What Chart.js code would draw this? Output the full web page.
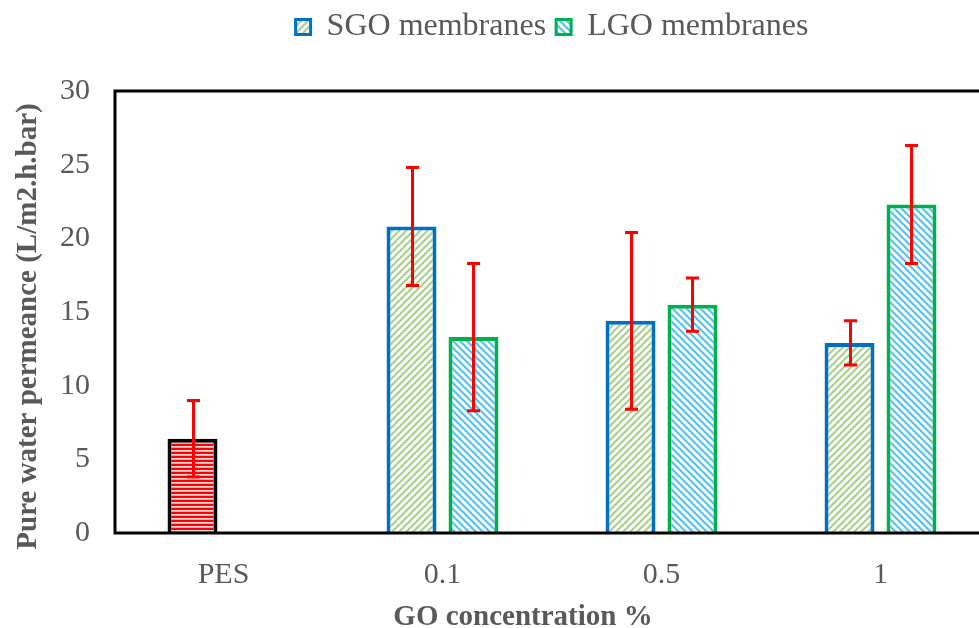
<!DOCTYPE html>
<html>
<head>
<meta charset="utf-8">
<script src="https://cdn.jsdelivr.net/npm/chart.js@4/dist/chart.umd.min.js"></script>
<style>
  html, body { margin: 0; padding: 0; background: #fff; overflow: hidden; width: 979px; height: 628px; }
  canvas { display: block; }
</style>
</head>
<body>
<canvas id="c" width="990" height="628"></canvas>
<script>
// ---- data ----
const categories = ['PES', '0.1', '0.5', '1'];
const seriesNames = ['SGO membranes', 'LGO membranes'];
const sgoValues = [6.4, 20.8, 14.4, 12.9];
const lgoValues = [null, 13.3, 15.5, 22.3];
const sgoErrors = [2.6, 4.0, 6.0, 1.5];
const lgoErrors = [null, 5.0, 1.8, 4.0];
const yTicks = [0, 5, 10, 15, 20, 25, 30];
const xTitle = 'GO concentration %';
const yTitle = 'Pure water permeance (L/m2.h.bar)';

// ---- patterns ----
function makePattern(draw, w, h) {
  const t = document.createElement('canvas');
  t.width = w; t.height = h;
  const c = t.getContext('2d');
  c.fillStyle = '#ffffff';
  c.fillRect(0, 0, w, h);
  draw(c, w, h);
  return document.getElementById('c').getContext('2d').createPattern(t, 'repeat');
}
function diag(c, n, color, up) {
  c.strokeStyle = color; c.lineWidth = 2.2; c.lineCap = 'square';
  c.beginPath();
  for (let k = -1; k <= 1; k++) {
    if (up) { c.moveTo(k * n, n); c.lineTo(k * n + n, 0); }
    else { c.moveTo(k * n, 0); c.lineTo(k * n + n, n); }
  }
  c.stroke();
}
const greenHatch = makePattern((c, w) => diag(c, w, '#a9d18e', true), 7, 7);
const blueHatch = makePattern((c, w) => diag(c, w, '#55c3f0', false), 7, 7);
const redStripes = makePattern((c, w) => {
  c.fillStyle = '#ff0000'; c.fillRect(0, 0, w, 2);
  c.fillStyle = '#ffe0e0'; c.fillRect(0, 2, w, 1);
  c.fillStyle = '#ff9a9a'; c.fillRect(0, 3, w, 1);
}, 4, 4);
const sgoBorder = '#0070c0';
const lgoBorder = '#00b050';
const pesBorder = '#000000';

// ---- plugins ----
const legendGap = {
  id: 'legendGap',
  beforeUpdate(chart) {
    const lg = chart.legend;
    if (lg && !lg.__gap) {
      const fit = lg.fit;
      lg.fit = function () { fit.call(this); if (this.height > 0) this.height += 38; };
      lg.__gap = true;
    }
  }
};
const frameAndErrors = {
  id: 'frameAndErrors',
  afterDatasetsDraw(chart) {
    const ctx = chart.ctx, a = chart.chartArea, ys = chart.scales.y;
    ctx.save();
    ctx.strokeStyle = '#000'; ctx.lineWidth = 3;
    ctx.strokeRect(a.left + 1, a.top, a.right - a.left + 5, a.bottom - a.top);
    const errs = [sgoErrors, lgoErrors];
    ctx.strokeStyle = '#ff0000'; ctx.lineWidth = 3; ctx.lineCap = 'butt';
    chart.data.datasets.forEach((ds, i) => {
      const meta = chart.getDatasetMeta(i);
      meta.data.forEach((el, j) => {
        const v = ds.data[j], e = errs[i][j];
        if (v == null || e == null) return;
        const yHi = ys.getPixelForValue(v + e), yLo = ys.getPixelForValue(v - e);
        const x = Math.round(el.x) + 0.5, cap = 6.5;
        ctx.beginPath();
        ctx.moveTo(x, yHi); ctx.lineTo(x, yLo);
        ctx.moveTo(x - cap, yHi); ctx.lineTo(x + cap, yHi);
        ctx.moveTo(x - cap, yLo); ctx.lineTo(x + cap, yLo);
        ctx.stroke();
      });
    });
    ctx.restore();
  }
};

const grey = '#595959';
const serif = '"Liberation Serif", "Times New Roman", serif';
new Chart(document.getElementById('c'), {
  type: 'bar',
  data: {
    labels: categories,
    datasets: [
      {
        label: seriesNames[0],
        data: sgoValues,
        backgroundColor: (ctx) => (ctx.dataIndex === 0 ? redStripes : greenHatch),
        borderColor: (ctx) => (ctx.dataIndex === 0 ? pesBorder : sgoBorder),
        borderWidth: 4,
        borderSkipped: 'start'
      },
      {
        label: seriesNames[1],
        data: lgoValues,
        backgroundColor: blueHatch,
        borderColor: lgoBorder,
        borderWidth: 4,
        borderSkipped: 'start'
      }
    ]
  },
  options: {
    responsive: false,
    animation: false,
    devicePixelRatio: 1,
    categoryPercentage: 0.566,
    barPercentage: 0.806,
    layout: { padding: { top: 1, left: 0, right: 0, bottom: 0 } },
    plugins: {
      legend: {
        position: 'top',
        fullSize: false,
        labels: {
          color: grey,
          font: { family: serif, size: 32 },
          boxWidth: 15,
          boxHeight: 15,
          padding: 10,
          generateLabels(chart) {
            const items = Chart.defaults.plugins.legend.labels.generateLabels(chart);
            items.forEach((it, i) => {
              it.fillStyle = i === 0 ? greenHatch : blueHatch;
              it.strokeStyle = i === 0 ? sgoBorder : lgoBorder;
              it.lineWidth = 3;
            });
            return items;
          }
        }
      },
      tooltip: { enabled: false }
    },
    scales: {
      x: {
        grid: { display: false },
        border: { display: false },
        ticks: {
          color: grey,
          padding: 16,
          font: { family: serif, size: 30 }
        },
        title: {
          display: true,
          text: xTitle + '        ',
          color: grey,
          padding: { top: 0, bottom: 0 },
          font: { family: serif, size: 29, weight: 'bold', lineHeight: 0.75 }
        },
        afterFit(s) { s.height = 95; }
      },
      y: {
        min: yTicks[0],
        max: yTicks[yTicks.length - 1],
        grid: { display: false },
        border: { display: false },
        afterBuildTicks(s) { s.ticks = yTicks.map(v => ({ value: v })); },
        ticks: {
          color: grey,
          padding: 16,
          font: { family: serif, size: 30 }
        },
        title: {
          display: true,
          text: yTitle + '    ',
          color: grey,
          padding: { top: 11, bottom: 0 },
          font: { family: serif, size: 29, weight: 'bold', lineHeight: 1.2 }
        },
        afterFit(s) { s.width = 114; }
      }
    }
  },
  plugins: [legendGap, frameAndErrors]
});
</script>
</body>
</html>
